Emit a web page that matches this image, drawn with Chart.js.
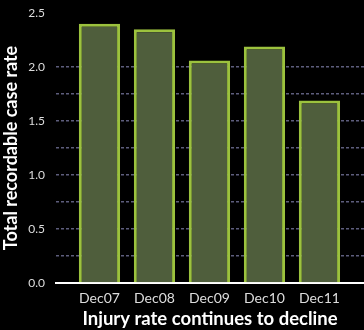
<!DOCTYPE html>
<html><head><meta charset="utf-8">
<script src="https://cdn.jsdelivr.net/npm/chart.js@4/dist/chart.umd.min.js"></script>
<style>html,body{margin:0;padding:0;background:#000;}#wrap{width:364px;height:330px;}</style>
</head><body><div id="wrap"><canvas id="c" width="364" height="330"></canvas></div>
<script>
const categories = ['Dec07','Dec08','Dec09','Dec10','Dec11'];
const rates = [2.40, 2.35, 2.06, 2.19, 1.69];
const yTicks = [0.0, 0.5, 1.0, 1.5, 2.0, 2.5];

const data = categories.map((c, i) => ({x: i, y: rates[i]}));

new Chart(document.getElementById('c'), {
  type: 'bar',
  data: { datasets: [{
    data: data,
    backgroundColor: '#4f5e3c',
    borderColor: '#9cc23e',
    borderWidth: 3,
    borderSkipped: 'bottom',
    barPercentage: 0.75,
    categoryPercentage: 1
  }]},
  options: {
    responsive: false,
    animation: false,
    layout: { padding: { top: 13, right: 0, left: 0, bottom: 0 } },
    plugins: { legend: { display: false }, tooltip: { enabled: false } },
    scales: {
      x: {
        type: 'linear',
        offset: false,
        min: -0.79, max: 4.81,
        afterBuildTicks: s => { s.ticks = categories.map((c, i) => ({value: i})); },
        afterFit: s => { s.height = 47; s.paddingLeft = 0; s.paddingRight = 0; },
        grid: { display: false, drawTicks: false, offset: false },
        border: { display: true, color: '#ffffff', width: 2 },
        ticks: {
          autoSkip: false, maxRotation: 0, padding: 7,
          color: '#dddddd', font: { family: 'Lato', size: 14 },
          callback: v => categories[v]
        },
        title: { display: true, text: 'Injury rate continues to decline', color: '#ffffff',
          font: { family: 'Lato', size: 18.5, weight: 'bold' }, padding: { top: 0, bottom: 0 } }
      },
      y: {
        min: 0, max: 2.5,
        afterBuildTicks: s => {
          const t = [];
          for (let v = 0; v <= 2.5001; v += 0.25) t.push({value: Math.round(v*100)/100});
          s.ticks = t;
        },
        afterFit: s => { s.width = 56; s.paddingTop = 0; s.paddingBottom = 0; },
        grid: {
          drawTicks: false,
          color: ctx => (ctx.tick && ctx.tick.value > 0 && ctx.tick.value <= 2.0) ? '#5d5d7c' : 'rgba(0,0,0,0)',
          lineWidth: 1.5
        },
        border: { display: false, dash: [3, 2] },
        ticks: {
          padding: 11, color: '#dddddd', font: { family: 'Lato', size: 12 },
          callback: v => yTicks.some(t => Math.abs(t - v) < 1e-6) ? v.toFixed(1) : ''
        },
        title: { display: true, text: 'Total recordable case rate', color: '#ffffff',
          font: { family: 'Lato', size: 18, weight: 'bold' }, padding: { top: 0, bottom: 2 } }
      }
    }
  }
});
</script></body></html>
